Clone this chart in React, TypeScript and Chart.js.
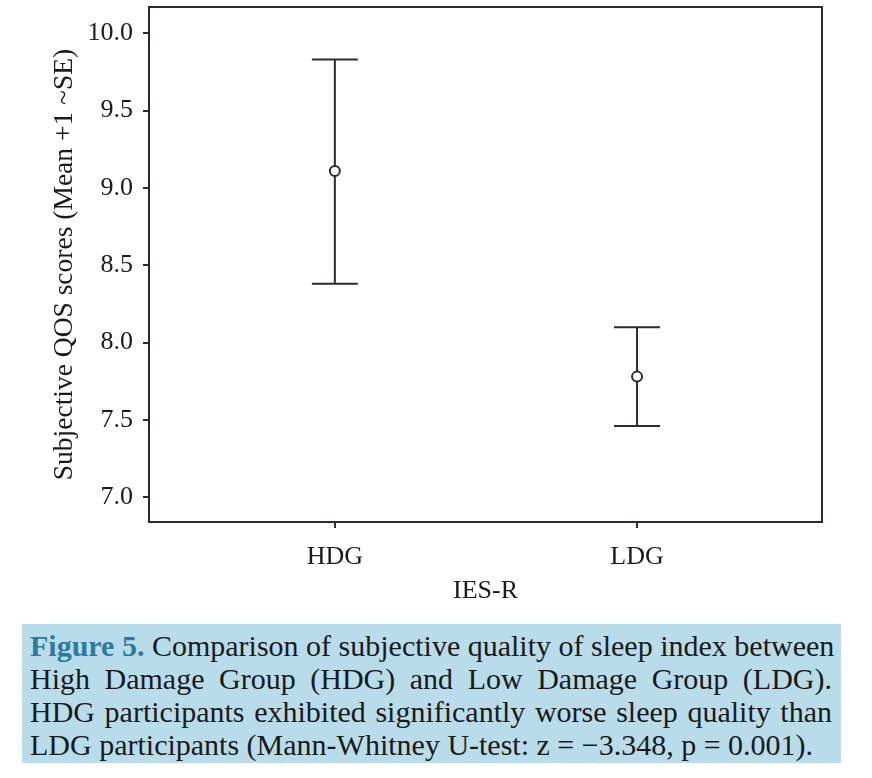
import React, { useEffect, useRef } from "react";
import { Chart, registerables } from "chart.js";

Chart.register(...registerables);

const CATEGORIES = ["HDG", "LDG"];
const MEANS = [9.11, 7.78];
const UPPER = [9.83, 8.1];
const LOWER = [8.38, 7.46];
const Y_TICKS = [7.0, 7.5, 8.0, 8.5, 9.0, 9.5, 10.0];
const X_TICKS = [0, 1];
const Y_TITLE = "Subjective QOS scores (Mean +1 ~SE)";
const X_TITLE = "IES-R";
const CAPTION_LINES = [
  "Comparison of subjective quality of sleep index between",
  "High Damage Group (HDG) and Low Damage Group (LDG).",
  "HDG participants exhibited significantly worse sleep quality than",
  "LDG participants (Mann-Whitney U-test: z = \u22123.348, p = 0.001).",
];

const INK = "#2b2b38";
const SERIF = "'Liberation Serif', 'Times New Roman', serif";
const CAP = 23;

const errorBarPlugin = {
  id: "errorBars",
  beforeDatasetsDraw(chart: any) {
    const { ctx, scales } = chart;
    const x = scales.x;
    const y = scales.y;
    ctx.save();
    ctx.strokeStyle = INK;
    ctx.lineWidth = 2;
    CATEGORIES.forEach((_, i) => {
      const px = x.getPixelForValue(i);
      const top = y.getPixelForValue(UPPER[i]);
      const bot = y.getPixelForValue(LOWER[i]);
      ctx.beginPath();
      ctx.moveTo(px, top);
      ctx.lineTo(px, bot);
      ctx.moveTo(px - CAP, top);
      ctx.lineTo(px + CAP, top);
      ctx.moveTo(px - CAP, bot);
      ctx.lineTo(px + CAP, bot);
      ctx.stroke();
    });
    ctx.restore();
  },
  afterDraw(chart: any) {
    const { ctx, chartArea } = chart;
    ctx.save();
    ctx.strokeStyle = INK;
    ctx.lineWidth = 2;
    ctx.strokeRect(
      chartArea.left,
      chartArea.top,
      chartArea.right - chartArea.left,
      chartArea.bottom - chartArea.top
    );
    ctx.restore();
  },
};

export default function App() {
  const ref = useRef<HTMLCanvasElement | null>(null);

  useEffect(() => {
    if (!ref.current) return;
    const chart = new Chart(ref.current, {
      type: "scatter",
      data: {
        datasets: [
          {
            data: MEANS.map((m, i) => ({ x: i, y: m })),
            pointRadius: 5,
            pointBorderWidth: 2,
            pointBorderColor: INK,
            pointBackgroundColor: "#ffffff",
            showLine: false,
          },
        ],
      },
      options: {
        animation: false,
        responsive: false,
        layout: { padding: { top: 6, right: 50, left: 0, bottom: 0 } },
        plugins: {
          legend: { display: false },
          tooltip: { enabled: false },
        },
        scales: {
          x: {
            type: "linear",
            min: -0.615,
            max: 1.612,
            afterBuildTicks: (s: any) => {
              s.ticks = X_TICKS.map((v) => ({ value: v }));
            },
            afterFit: (s: any) => {
              s.height = 88;
              s.paddingLeft = 0;
              s.paddingRight = 0;
            },
            ticks: {
              callback: (v: any) => CATEGORIES[v as number] ?? "",
              color: "#1a1a1a",
              font: { family: SERIF, size: 26 },
              padding: 14,
              maxRotation: 0,
            },
            grid: {
              display: true,
              drawOnChartArea: false,
              drawTicks: true,
              tickLength: 6,
              color: INK,
              lineWidth: 2,
            },
            border: { display: true, color: INK, width: 2 },
            title: {
              display: true,
              text: X_TITLE,
              color: "#1a1a1a",
              font: { family: SERIF, size: 26 },
              padding: { top: 0, bottom: 3 },
            },
          },
          y: {
            type: "linear",
            min: 6.84,
            max: 10.17,
            afterBuildTicks: (s: any) => {
              s.ticks = Y_TICKS.map((v) => ({ value: v }));
            },
            afterFit: (s: any) => {
              s.width = 149;
              s.paddingTop = 0;
              s.paddingBottom = 0;
            },
            ticks: {
              callback: (v: any) => Number(v).toFixed(1),
              color: "#1a1a1a",
              font: { family: SERIF, size: 26 },
              padding: 10,
            },
            grid: {
              display: true,
              drawOnChartArea: false,
              drawTicks: true,
              tickLength: 6,
              color: INK,
              lineWidth: 2,
            },
            border: { display: true, color: INK, width: 2 },
            title: {
              display: true,
              text: Y_TITLE,
              color: "#1a1a1a",
              font: { family: SERIF, size: 27.5 },
              padding: { top: 48, bottom: 0 },
            },
          },
        },
      },
      plugins: [errorBarPlugin],
    } as any);
    return () => chart.destroy();
  }, []);

  const lineStyle: React.CSSProperties = {
    textAlign: "justify",
    textAlignLast: "justify",
    whiteSpace: "nowrap",
    height: 33,
    lineHeight: "33px",
  };

  return (
    <div
      style={{
        position: "absolute",
        left: 0,
        top: 0,
        width: 872,
        height: 778,
        background: "#ffffff",
        overflow: "hidden",
      }}
    >
      <canvas ref={ref} width={872} height={610} style={{ display: "block" }} />
      <div
        style={{
          position: "absolute",
          left: 22,
          top: 624,
          width: 819,
          height: 139,
          boxSizing: "border-box",
          padding: "5px 9px 0 8px",
          background: "#b9dcea",
          fontFamily: SERIF,
          fontSize: 30,
          color: "#1a1a1a",
        }}
      >
        <div style={lineStyle}>
          <span style={{ color: "#2d7b9c", fontWeight: "bold" }}>Figure 5.</span>{" "}
          {CAPTION_LINES[0]}
        </div>
        <div style={lineStyle}>{CAPTION_LINES[1]}</div>
        <div style={lineStyle}>{CAPTION_LINES[2]}</div>
        <div style={{ ...lineStyle, textAlignLast: "left" }}>{CAPTION_LINES[3]}</div>
      </div>
    </div>
  );
}
